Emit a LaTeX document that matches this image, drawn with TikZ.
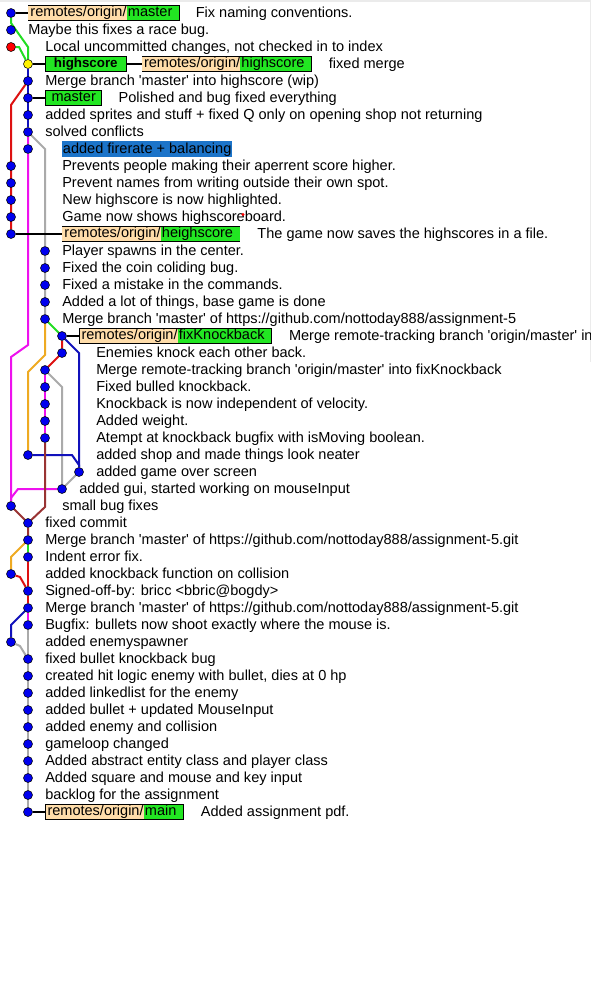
\documentclass[tikz,border=0pt]{standalone}
\usepackage{fontspec}
\setmainfont{Liberation Sans}[Ligatures=TeXOff]
\usetikzlibrary{positioning}

\definecolor{lanegreen}{HTML}{22DD22}
\definecolor{lanered}{HTML}{DD1111}
\definecolor{laneblue}{HTML}{1111BB}
\definecolor{lanemagenta}{HTML}{EE11EE}
\definecolor{lanegray}{HTML}{AAAAAA}
\definecolor{lanebrown}{HTML}{993333}
\definecolor{laneorange}{HTML}{EEAA22}
\definecolor{peach}{HTML}{FFDDAA}
\definecolor{tgreen}{HTML}{22E622}
\definecolor{selblue}{HTML}{1C74C9}
\definecolor{dotblue}{HTML}{0000EE}

\pgfdeclarelayer{bg}
\pgfsetlayers{bg,main}

\newcommand{\tagstrut}{\vrule height 8.3pt depth 2.6pt width 0pt}
\newcommand{\remotetag}[1]{\setlength{\fboxsep}{0pt}%
\colorbox{peach}{\tagstrut\hspace{1.5pt}remotes/origin/}%
\colorbox{tgreen}{\tagstrut\hspace{1pt}#1\hspace{5pt}}}

\tikzstyle{commit} = [circle, draw=black, fill=dotblue, inner sep=0pt, minimum size=6.75pt, line width=0.4pt]
\tikzstyle{localchange} = [commit, fill=red]
\tikzstyle{headcommit} = [commit, fill=yellow]
\tikzstyle{msg} = [anchor=west, inner sep=0pt, text height=8.3pt, text depth=2.2pt]
\tikzstyle{selmsg} = [msg, fill=selblue, inner xsep=0.5pt, inner ysep=0.6pt]
\tikzstyle{rtag} = [draw, anchor=west, inner sep=0pt, line width=0.75pt]
\tikzstyle{lbranch} = [draw, fill=tgreen, anchor=west, inner xsep=4.5pt, inner ysep=0pt, text height=8.3pt, text depth=2.6pt, line width=0.75pt]
\tikzstyle{lane} = [draw, line width=1.5pt]
\tikzstyle{tagline} = [draw, line width=1.5pt]

\begin{document}
\begin{tikzpicture}[x=0.75pt, y=-0.75pt, font=\fontsize{10.9pt}{13pt}\selectfont]
\useasboundingbox (0,0) rectangle (613,1000);
\draw [black!8, line width=2pt] (0,1) -- (590,1);
\draw [black!8] (590,0) -- (590,362);

% commits
\node [commit] (r1) at (11,13) {};
\node [commit] (r2) at (11,30) {};
\node [localchange] (r3) at (11,47) {};
\node [headcommit] (r4) at (28,64) {};
\node [commit] (r5) at (28,81) {};
\node [commit] (r6) at (28,98) {};
\node [commit] (r7) at (28,115) {};
\node [commit] (r8) at (28,132) {};
\node [commit] (r9) at (28,149) {};
\node [commit] (r10) at (11,166) {};
\node [commit] (r11) at (11,183) {};
\node [commit] (r12) at (11,200) {};
\node [commit] (r13) at (11,217) {};
\node [commit] (r14) at (11,234) {};
\node [commit] (r15) at (45,251) {};
\node [commit] (r16) at (45,268) {};
\node [commit] (r17) at (45,285) {};
\node [commit] (r18) at (45,302) {};
\node [commit] (r19) at (45,319) {};
\node [commit] (r20) at (62,336) {};
\node [commit] (r21) at (62,353) {};
\node [commit] (r22) at (45,370) {};
\node [commit] (r23) at (45,387) {};
\node [commit] (r24) at (45,404) {};
\node [commit] (r25) at (45,421) {};
\node [commit] (r26) at (45,438) {};
\node [commit] (r27) at (28,455) {};
\node [commit] (r28) at (79,472) {};
\node [commit] (r29) at (62,489) {};
\node [commit] (r30) at (11,506) {};
\node [commit] (r31) at (28,523) {};
\node [commit] (r32) at (28,540) {};
\node [commit] (r33) at (28,557) {};
\node [commit] (r34) at (11,574) {};
\node [commit] (r35) at (28,591) {};
\node [commit] (r36) at (28,608) {};
\node [commit] (r37) at (28,625) {};
\node [commit] (r38) at (11,642) {};
\node [commit] (r39) at (28,659) {};
\node [commit] (r40) at (28,676) {};
\node [commit] (r41) at (28,693) {};
\node [commit] (r42) at (28,710) {};
\node [commit] (r43) at (28,727) {};
\node [commit] (r44) at (28,744) {};
\node [commit] (r45) at (28,761) {};
\node [commit] (r46) at (28,778) {};
\node [commit] (r47) at (28,795) {};
\node [commit] (r48) at (28,812) {};

% branch lines
\begin{pgfonlayer}{bg}
\path [lane, draw=lanegreen] (r1) -- ++(0,10) -- ++(17,24) -- (r4);
\path [lane, draw=lanegreen] (r3) -- ++(8,0) -- (r4);
\path [lane, draw=laneblue] (r4) -- (r8);
\path [lane, draw=lanered] (r5) -- ++(-17,24) -- (r14);
\path [lane, draw=lanemagenta] (r8) -- (r9) -- ++(0,196) -- ++(-17,12) -- (r30);
\path [lane, draw=lanemagenta] (r29) -- ++(-44,0) -- ++(-7,9) -- (r30);
\path [lane, draw=lanegray] (r8) -- ++(17,17) -- (r15) -- (r19);
\path [lane, draw=lanegreen] (r19) -- (r20);
\path [lane, draw=laneorange] (r19) -- ++(0,36) -- ++(-17,17) -- (r27);
\path [lane, draw=lanered] (r20) -- (r21) -- (r22);
\path [lane, draw=laneblue] (r20) -- ++(17,17) -- (r28);
\path [lane, draw=lanemagenta] (r22) -- (r26);
\path [lane, draw=lanegray] (r22) -- ++(17,17) -- (r29);
\path [lane, draw=lanegray] (r28) -- (r29);
\path [lane, draw=laneblue] (r27) -- ++(44,0) -- ++(7,10) -- (r28);
\path [lane, draw=lanebrown] (r26) -- ++(0,69) -- (r31);
\path [lane, draw=lanebrown] (r30) -- (r31) -- (r32);
\path [lane, draw=laneorange] (r32) -- ++(-17,17) -- (r34);
\path [lane, draw=lanegreen] (r32) -- (r33);
\path [lane, draw=lanered] (r33) -- (r35) -- (r36);
\path [lane, draw=lanered] (r34) -- ++(9,3) -- (r35);
\path [lane, draw=lanemagenta] (r36) -- (r37);
\path [lane, draw=laneblue] (r36) -- ++(-17,17) -- (r38);
\path [lane, draw=lanegray] (r37) -- (r39);
\path [lane, draw=lanegray] (r38) -- ++(9,4) -- (r39);
\path [lane, draw=lanegray] (r39) -- (r48);
\end{pgfonlayer}

% refs and messages
\node [rtag] (t1) at (28,13) {\remotetag{master}};
\node [msg, right=12pt of t1] (m1) {Fix naming conventions.};
\node [msg] (m2) at (28,30) {Maybe this fixes a race bug.};
\node [msg] (m3) at (45,47) {Local uncommitted changes, not checked in to index};
\node [lbranch, inner xsep=6.3pt, font=\bfseries] (b4) at (45,64) {highscore};
\node [rtag, right=11.25pt of b4] (t4) {\remotetag{highscore}};
\node [msg, right=12.75pt of t4] (m4) {fixed merge};
\node [msg] (m5) at (45,81) {Merge branch 'master' into highscore (wip)};
\node [lbranch] (b6) at (45,98) {master};
\node [msg, right=12pt of b6] (m6) {Polished and bug fixed everything};
\node [msg] (m7) at (45,115) {added sprites and stuff + fixed Q only on opening shop not returning};
\node [msg] (m8) at (45,132) {solved conflicts};
\node [selmsg] (m9) at (62,149) {added firerate + balancing};
\node [msg] (m10) at (62,166) {Prevents people making their aperrent score higher.};
\node [msg] (m11) at (62,183) {Prevent names from writing outside their own spot.};
\node [msg] (m12) at (62,200) {New highscore is now highlighted.};
\node [msg] (m13) at (62,217) {Game now shows highscoreboard.};
\fill [red] (243,214.5) circle (1.3pt);
\node [rtag] (t14) at (62,234) {\remotetag{heighscore}};
\node [msg, right=12.75pt of t14] (m14) {The game now saves the highscores in a file.};
\node [msg] (m15) at (62,251) {Player spawns in the center.};
\node [msg] (m16) at (62,268) {Fixed the coin coliding bug.};
\node [msg] (m17) at (62,285) {Fixed a mistake in the commands.};
\node [msg] (m18) at (62,302) {Added a lot of things, base game is done};
\node [msg] (m19) at (62,319) {Merge branch 'master' of https://github.com/nottoday888/assignment-5};
\node [rtag] (t20) at (79,336) {\remotetag{fixKnockback}};
\begin{scope}
\clip (0,320) rectangle (590,352);
\node [msg, right=12.75pt of t20] (m20) {Merge remote-tracking branch 'origin/master' in};
\end{scope}
\node [msg] (m21) at (96,353) {Enemies knock each other back.};
\node [msg] (m22) at (96,370) {Merge remote-tracking branch 'origin/master' into fixKnockback};
\node [msg] (m23) at (96,387) {Fixed bulled knockback.};
\node [msg] (m24) at (96,404) {Knockback is now independent of velocity.};
\node [msg] (m25) at (96,421) {Added weight.};
\node [msg] (m26) at (96,438) {Atempt at knockback bugfix with isMoving boolean.};
\node [msg] (m27) at (96,455) {added shop and made things look neater};
\node [msg] (m28) at (96,472) {added game over screen};
\node [msg] (m29) at (79,489) {added gui, started working on mouseInput};
\node [msg] (m30) at (62,506) {small bug fixes};
\node [msg] (m31) at (45,523) {fixed commit};
\node [msg] (m32) at (45,540) {Merge branch 'master' of https://github.com/nottoday888/assignment-5.git};
\node [msg] (m33) at (45,557) {Indent error fix.};
\node [msg] (m34) at (45,574) {added knockback function on collision};
\node [msg] (m35) at (45,591) {Signed-off-by: bricc <bbric@bogdy>};
\node [msg] (m36) at (45,608) {Merge branch 'master' of https://github.com/nottoday888/assignment-5.git};
\node [msg] (m37) at (45,625) {Bugfix: bullets now shoot exactly where the mouse is.};
\node [msg] (m38) at (45,642) {added enemyspawner};
\node [msg] (m39) at (45,659) {fixed bullet knockback bug};
\node [msg] (m40) at (45,676) {created hit logic enemy with bullet, dies at 0 hp};
\node [msg] (m41) at (45,693) {added linkedlist for the enemy};
\node [msg] (m42) at (45,710) {added bullet + updated MouseInput};
\node [msg] (m43) at (45,727) {added enemy and collision};
\node [msg] (m44) at (45,744) {gameloop changed};
\node [msg] (m45) at (45,761) {Added abstract entity class and player class};
\node [msg] (m46) at (45,778) {Added square and mouse and key input};
\node [msg] (m47) at (45,795) {backlog for the assignment};
\node [rtag] (t48) at (45,812) {\remotetag{main}};
\node [msg, right=12.75pt of t48] (m48) {Added assignment pdf.};

\path [tagline] (r1) -- (r1 -| t1.west);
\path [tagline] (r4) -- (r4 -| b4.west);
\path [tagline] (b4) -- (t4);
\path [tagline] (r6) -- (r6 -| b6.west);
\path [tagline] (r14) -- (r14 -| t14.west);
\path [tagline] (r20) -- (r20 -| t20.west);
\path [tagline] (r48) -- (r48 -| t48.west);

\end{tikzpicture}
\end{document}
